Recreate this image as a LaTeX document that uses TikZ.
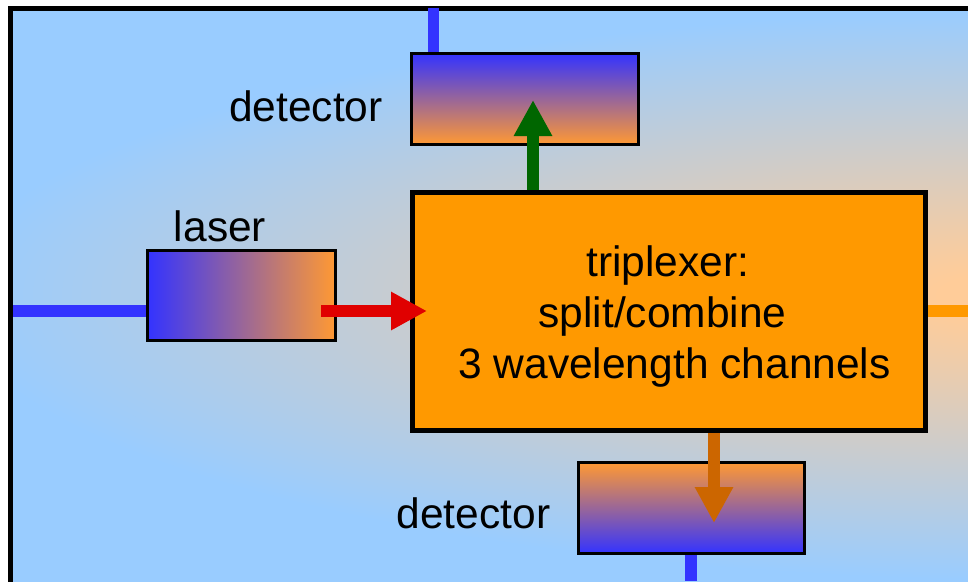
\documentclass[tikz,border=0pt]{standalone}
\usepackage{fontspec}
\setmainfont{Liberation Sans}
\usetikzlibrary{arrows.meta}
\definecolor{bgblue}{HTML}{99CCFF}
\definecolor{peach}{HTML}{FFCC99}
\definecolor{fblue}{HTML}{3333FF}
\definecolor{forange}{HTML}{FF9933}
\definecolor{triorange}{HTML}{FF9900}
\definecolor{redarrow}{HTML}{E00000}
\definecolor{greenarrow}{HTML}{006600}
\definecolor{brownarrow}{HTML}{CC6600}
\pgfdeclareradialshading{bgshade}{\pgfpoint{0bp}{0bp}}{color(0bp)=(peach); color(2.5bp)=(peach); color(25bp)=(bgblue); color(50bp)=(bgblue)}
\tikzset{
  devbox/.style={draw=black, line width=3.5pt, rectangle, inner sep=0pt},
  tribox/.style={draw=black, line width=5pt, fill=triorange, rectangle, inner sep=0pt,
     minimum width=513pt, minimum height=238pt},
  lbl/.style={font=\fontsize{42.5}{50}\selectfont, inner sep=0pt},
  bigtext/.style={font=\fontsize{42.5}{51}\selectfont, align=center, inner sep=0pt},
  fiber/.style={line width=11.5pt, fblue},
  fatarrow/.style={line width=12pt, -{Triangle[length=36pt,width=36pt]}}
}
\begin{document}
\begin{tikzpicture}[x=1pt,y=-1pt]
\useasboundingbox (0,0) rectangle (968,581);
% background
\fill[bgblue] (10.5,8.5) rectangle (990,600);
\begin{scope}
  \clip (10.5,8.5) rectangle (990,600);
  \shade[shading=bgshade] (1050,295) ellipse [x radius=1100, y radius=285];
\end{scope}
\draw[line width=5pt] (10.5,8.5) rectangle (990,600);

% nodes
\node[tribox] (tri) at (669,311.5) {};
\node[bigtext] (tritext) at (668,317) {triplexer:\\split/combine\rule{11pt}{0pt}\\\rule{13pt}{0pt}3 wavelength channels};
\node[devbox, minimum width=227pt, minimum height=91pt, top color=fblue, bottom color=forange] (tdet) at (525,99) {};
\node[devbox, minimum width=188pt, minimum height=90pt, left color=fblue, right color=forange] (laser) at (241.5,295.5) {};
\node[devbox, minimum width=226pt, minimum height=91pt, top color=forange, bottom color=fblue] (bdet) at (691.5,508) {};

\node[lbl, anchor=base] (tdetl) at (306,121) {detector};
\node[lbl, anchor=base] (laserl) at (220,241) {laser};
\node[lbl, anchor=base] (bdetl) at (473.5,528) {detector};

% fibers
\coordinate (ttop) at (433.5,8);
\coordinate (lleft) at (13,311);
\coordinate (rright) at (968,311);
\coordinate (bbot) at (691,581);
\draw[fiber] (ttop) -- (ttop |- tdet.north);
\draw[fiber] (lleft) -- (lleft -| laser.west);
\draw[fiber] (bdet.south -| bbot) -- (bbot);
\draw[line width=12pt, triorange] (tri.east |- rright) -- (rright);

% arrows
\coordinate (rs) at (321,311);
\coordinate (re) at (427,311);
\draw[fatarrow, redarrow] (rs) -- (re);
\coordinate (gs) at (533,190);
\coordinate (ge) at (533,100);
\draw[fatarrow, greenarrow] (gs) -- (ge);
\coordinate (bs) at (714,433);
\coordinate (be) at (714,523);
\draw[fatarrow, brownarrow] (bs) -- (be);
\end{tikzpicture}
\end{document}
